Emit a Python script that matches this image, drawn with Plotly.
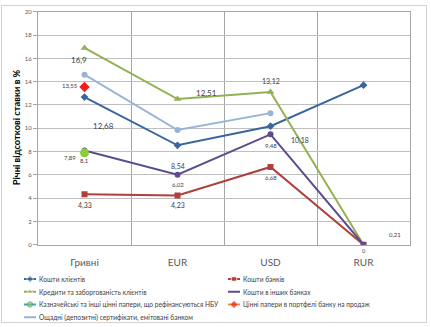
import plotly.graph_objects as go

W, H = 431, 327

# Currency categories
categories = ["Гривні", "EUR", "USD", "RUR"]

# Annual interest rates, % (None where the series has no value)
koshty_kliientiv = [12.68, 8.54, 10.18, 13.7]
koshty_bankiv = [4.33, 4.23, 6.68, 0]
kredyty = [16.9, 12.51, 13.12, 0]
koshty_v_inshykh = [8.1, 6.02, 9.48, 0]
kaznacheiski = [7.89, None, None, None]
tsinni_papery = [13.55, None, None, None]
oshchadni_sertyfikaty = [14.6, 9.85, 11.3, None]
rur_note = 0.21

x_idx = list(range(len(categories)))

series = [
    dict(name="Кошти клієнтів", y=koshty_kliientiv, color="#3A66A0",
         symbol="diamond", size=6, mcolor="#3A66A0"),
    dict(name="Кошти банків", y=koshty_bankiv, color="#B0403C",
         symbol="square", size=6, mcolor="#B0403C"),
    dict(name="Кредити та заборгованість клієнтів", y=kredyty, color="#93B152",
         symbol="triangle-up", size=7, mcolor="#93B152"),
    dict(name="Кошти в інших банках", y=koshty_v_inshykh, color="#5E4A8E",
         symbol="circle", size=0, mcolor="#5E4A8E"),
    dict(name="Казначейські та інші цінні папери, що рефінансуються НБУ",
         y=kaznacheiski, color="#4A9CB8",
         symbol="circle", size=9, mcolor="#8CCB3C"),
    dict(name="Цінні папери в портфелі банку на продаж", y=tsinni_papery,
         color="#F08A3C", symbol="diamond", size=8, mcolor="#F21C1C"),
    dict(name="Ощадні (депозитні) сертифікати, емітовані банком",
         y=oshchadni_sertyfikaty, color="#97B4D8",
         symbol="circle", size=0, mcolor="#97B4D8"),
]

fig = go.Figure()
for s in series:
    fig.add_trace(go.Scatter(
        x=x_idx, y=s["y"], name=s["name"], mode="lines+markers",
        line=dict(color=s["color"], width=2),
        marker=dict(symbol=s["symbol"], size=s["size"], color=s["mcolor"]),
        connectgaps=False, showlegend=False, xaxis="x", yaxis="y",
    ))


def fmt(v):
    return f"{v:g}".replace(".", ",")


# Data labels: (values, category index, xshift, yshift, font size)
labels = [
    (kredyty, 0, -6, -12, 8),
    (tsinni_papery, 0, -15, 1, 6),
    (koshty_kliientiv, 0, 19, -29, 8),
    (kaznacheiski, 0, -15, -5, 6),
    (koshty_v_inshykh, 0, 0, -10, 6),
    (koshty_bankiv, 0, 0, -11, 7),
    (kredyty, 1, 29, 6, 8),
    (koshty_kliientiv, 1, 0, -21, 7),
    (koshty_v_inshykh, 1, 0, -10, 6),
    (koshty_bankiv, 1, 0, -10, 7),
    (kredyty, 2, 0, 10, 7),
    (koshty_v_inshykh, 2, 0, -11, 6),
    (koshty_kliientiv, 2, 29, -14, 7),
    (koshty_bankiv, 2, 0, -11, 6),
    (koshty_bankiv, 3, 0, -6.5, 5.5),
]
for vals, i, dx, dy, size in labels:
    fig.add_annotation(x=i, y=vals[i], xref="x", yref="y", text=fmt(vals[i]),
                       showarrow=False, xshift=dx, yshift=dy,
                       font=dict(size=size, color="#404040"))
fig.add_annotation(x=3, y=rur_note, xref="x", yref="y", text=fmt(rur_note),
                   showarrow=False, xshift=31, yshift=8,
                   font=dict(size=6, color="#404040"))

# Y-axis title
fig.add_annotation(xref="paper", yref="paper", x=16 / W, y=1 - 126 / H,
                   text="<b>Річні відсоткові ставки в %</b>", textangle=-90,
                   showarrow=False, xanchor="center", yanchor="middle",
                   font=dict(size=9.3, color="#000000"))

# Legend block: two columns, drawn on a pixel-scaled helper axis
legend_cols = [(24, 36), (228, 240)]
legend_rows = [281, 294, 307, 320]
legend_slots = [(0, 0), (1, 0), (0, 1), (1, 1), (0, 2), (1, 2), (0, 3)]
for s, (c, r) in zip(series, legend_slots):
    x0, x1 = legend_cols[c]
    yy = legend_rows[r]
    fig.add_trace(go.Scatter(
        x=[x0, (x0 + x1) / 2, x1], y=[yy, yy, yy], mode="lines+markers",
        line=dict(color=s["color"], width=2),
        marker=dict(symbol=s["symbol"], color=s["mcolor"],
                    size=[0, min(s["size"], 6) * 0.9, 0]),
        showlegend=False, hoverinfo="skip", xaxis="x2", yaxis="y2",
    ))
    fig.add_annotation(x=x1 + 1, y=yy, xref="x2", yref="y2", text=s["name"],
                       showarrow=False, xanchor="left", yanchor="middle",
                       font=dict(size=6.6, color="#404040"))

fig.update_layout(
    width=W, height=H,
    margin=dict(l=0, r=0, t=0, b=0),
    paper_bgcolor="white", plot_bgcolor="white",
    font=dict(family="Lato, 'DejaVu Sans', sans-serif", color="#404040"),
    showlegend=False,
    xaxis=dict(
        domain=[38 / W, 410 / W],
        range=[-0.5, 3.5], tickvals=x_idx, ticktext=categories,
        showgrid=False, zeroline=False, ticks="",
        tickfont=dict(size=10, color="#595959"), ticklabelstandoff=8,
        showline=True, linecolor="#A6A6A6", linewidth=1, mirror=True,
        minor=dict(tickvals=[0.5, 1.5, 2.5], showgrid=True,
                   gridcolor="#A6A6A6", gridwidth=1),
    ),
    yaxis=dict(
        domain=[1 - 246 / H, 1 - 8 / H],
        range=[0, 20], dtick=2, showgrid=True, gridcolor="#BFBFBF",
        zeroline=False, ticks="outside", ticklen=4, tickcolor="#A6A6A6",
        tickfont=dict(size=6, color="#595959"),
        showline=True, linecolor="#A6A6A6", linewidth=1, mirror=True,
    ),
    xaxis2=dict(domain=[0, 1], range=[0, W], visible=False,
                fixedrange=True, anchor="y2"),
    yaxis2=dict(domain=[0, 54 / H], range=[H, H - 54], visible=False,
                fixedrange=True, anchor="x2"),
    shapes=[dict(type="rect", xref="paper", yref="paper",
                 x0=1.5 / W, x1=426.5 / W, y0=1 - 325.5 / H, y1=1 - 1.5 / H,
                 line=dict(color="#D0D0D0", width=1))],
)

fig.write_html("out.html")
